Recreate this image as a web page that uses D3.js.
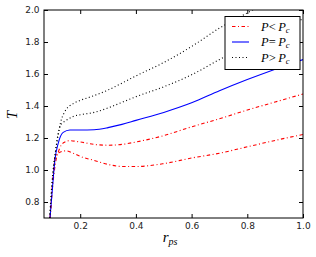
<!DOCTYPE html>
<html>
<head>
<meta charset="utf-8">
<script src="https://cdn.jsdelivr.net/npm/d3@7"></script>
<style>
  body { margin: 0; background: #fff; }
  svg text { font-family: "DejaVu Sans", sans-serif; }
</style>
</head>
<body>
<svg id="chart"></svg>
<script>
// r_ps values and T for each curve
const lowRedX = [0.092, 0.1, 0.11, 0.125, 0.15, 0.175, 0.2, 0.25, 0.3, 0.35, 0.4, 0.5, 0.6, 0.7, 0.8, 0.9, 1.0];
const lowRedY = [0.7, 0.9, 1.08, 1.11, 1.12, 1.105, 1.085, 1.06, 1.035, 1.022, 1.022, 1.04, 1.075, 1.105, 1.145, 1.185, 1.222];
const highRedX = [0.092, 0.1, 0.11, 0.125, 0.14, 0.16, 0.2, 0.25, 0.3, 0.35, 0.4, 0.5, 0.6, 0.7, 0.8, 0.9, 1.0];
const highRedY = [0.7, 0.88, 1.03, 1.13, 1.17, 1.183, 1.175, 1.16, 1.155, 1.16, 1.175, 1.215, 1.27, 1.32, 1.375, 1.425, 1.475];
const blueX = [0.0915, 0.1, 0.109, 0.121, 0.139, 0.163, 0.2, 0.25, 0.3, 0.35, 0.4, 0.5, 0.6, 0.7, 0.8, 0.9, 1.0];
const blueY = [0.7, 0.88, 1.06, 1.167, 1.235, 1.25, 1.25, 1.252, 1.265, 1.285, 1.31, 1.36, 1.42, 1.495, 1.565, 1.63, 1.69];
const lowDotX = [0.091, 0.1, 0.11, 0.12, 0.13, 0.15, 0.175, 0.2, 0.25, 0.3, 0.35, 0.4, 0.5, 0.6, 0.7, 0.8, 0.9, 1.0];
const lowDotY = [0.7, 0.93, 1.1, 1.22, 1.28, 1.31, 1.335, 1.345, 1.36, 1.388, 1.423, 1.458, 1.52, 1.595, 1.69, 1.775, 1.86, 1.945];
const highDotX = [0.09, 0.1, 0.11, 0.12, 0.13, 0.145, 0.175, 0.2, 0.25, 0.3, 0.35, 0.4, 0.5, 0.6, 0.7, 0.8, 0.85];
const highDotY = [0.7, 0.95, 1.1, 1.21, 1.3, 1.365, 1.415, 1.435, 1.465, 1.5, 1.543, 1.588, 1.672, 1.772, 1.887, 1.982, 2.03];
const xTicks = [0.2, 0.4, 0.6, 0.8, 1.0];
const yTicks = [0.8, 1.0, 1.2, 1.4, 1.6, 1.8, 2.0];
const legendLabels = ["<", "=", ">"];

const svgWidth = 316, svgHeight = 257;
const margin = {top: 10, right: 13, bottom: 39, left: 44};
const width = svgWidth - margin.left - margin.right,
    height = svgHeight - margin.top - margin.bottom;

const chart = d3.select("#chart").attr("width", svgWidth).attr("height", svgHeight);
const g = chart.append("g").attr("transform", `translate(${margin.left},${margin.top})`);

var xScale = d3.scaleLinear().domain([0.07, 1.0]).range([0, width]);
var yScale = d3.scaleLinear().domain([0.7, 2.0]).range([height, 0]);

chart.append("defs").append("clipPath").attr("id", "clip")
    .append("rect").attr("width", width).attr("height", height);

var line = d3.line()
    .x(d => xScale(d[0]))
    .y(d => yScale(d[1]))
    .curve(d3.curveMonotoneX);

const redStyle = {color: "#ff0000", dash: "3.5,2.5,1,2.5"},
    blueStyle = {color: "#0000ff", dash: null},
    dotStyle = {color: "#000", dash: "1,2.5"};
const series = [
    {x: lowRedX, y: lowRedY, st: redStyle},
    {x: highRedX, y: highRedY, st: redStyle},
    {x: blueX, y: blueY, st: blueStyle},
    {x: lowDotX, y: lowDotY, st: dotStyle},
    {x: highDotX, y: highDotY, st: dotStyle}
];

const plot = g.append("g").attr("clip-path", "url(#clip)");
series.forEach(function(s) {
    plot.append("path")
        .datum(s.x.map((v, i) => [v, s.y[i]]))
        .attr("fill", "none")
        .attr("stroke", s.st.color)
        .attr("stroke-width", 1.1)
        .attr("stroke-dasharray", s.st.dash)
        .attr("d", line);
});

// axes, ticks pointing inward on all sides
function styleAxis(sel) {
    sel.select(".domain").remove();
    sel.selectAll("line").attr("stroke", "#000");
    sel.selectAll("text").attr("fill", "#222").attr("font-size", 9);
}
g.append("g").attr("transform", `translate(0,${height})`)
    .call(d3.axisBottom(xScale).tickValues(xTicks).tickFormat(d3.format(".1f")).tickSizeInner(-4).tickPadding(4.5))
    .call(styleAxis);
g.append("g")
    .call(d3.axisLeft(yScale).tickValues(yTicks).tickFormat(d3.format(".1f")).tickSizeInner(-4).tickPadding(4.5))
    .call(styleAxis);
g.append("g")
    .call(d3.axisTop(xScale).tickValues(xTicks).tickFormat("").tickSizeInner(-4))
    .call(styleAxis);
g.append("g").attr("transform", `translate(${width},0)`)
    .call(d3.axisRight(yScale).tickValues(yTicks).tickFormat("").tickSizeInner(-4))
    .call(styleAxis);

g.append("rect").attr("width", width).attr("height", height)
    .attr("fill", "none").attr("stroke", "#000").attr("stroke-width", 1);

// axis labels
chart.append("text")
    .attr("transform", "translate(17,115) rotate(-90)")
    .attr("text-anchor", "middle")
    .style("font-family", "'Liberation Serif', serif")
    .style("font-style", "italic")
    .attr("font-size", 15)
    .text("T");
const xl = chart.append("text")
    .attr("x", 170).attr("y", 242)
    .attr("text-anchor", "middle")
    .style("font-family", "'Liberation Serif', serif")
    .style("font-style", "italic")
    .attr("font-size", 15);
xl.append("tspan").text("r");
xl.append("tspan").attr("font-size", 10).attr("dy", 3).text("ps");

// legend
const legStyles = [redStyle, blueStyle, dotStyle];
const leg = chart.append("g").attr("transform", "translate(225,16.5)");
leg.append("rect").attr("width", 75).attr("height", 53)
    .attr("fill", "#fff").attr("stroke", "#000").attr("stroke-width", 1);
legendLabels.forEach(function(d, i) {
    const st = legStyles[i];
    const yy = 10 + i * 15.5;
    leg.append("line").attr("x1", 7).attr("x2", 24).attr("y1", yy).attr("y2", yy)
        .attr("stroke", st.color).attr("stroke-width", 1.1)
        .attr("stroke-dasharray", st.dash);
    const t = leg.append("text").attr("x", 36).attr("y", yy + 4)
        .style("font-family", "'Liberation Serif', serif")
        .attr("font-size", 12.5);
    t.append("tspan").style("font-style", "italic").text("P");
    t.append("tspan").text(d + "\u2009");
    t.append("tspan").style("font-style", "italic").text("P");
    t.append("tspan").style("font-style", "italic").attr("font-size", 8.5).attr("dy", 2).text("c");
});
</script>
</body>
</html>
